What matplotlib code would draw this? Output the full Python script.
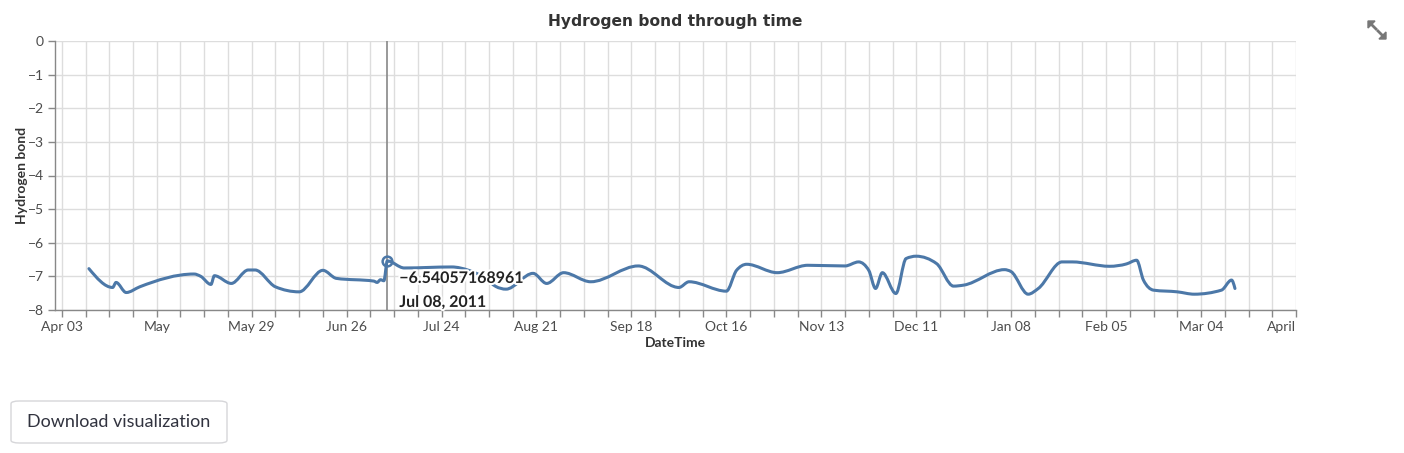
import numpy as np
import matplotlib
matplotlib.use("Agg")
import matplotlib.pyplot as plt
import matplotlib.dates as mdates
import matplotlib.patheffects as pe
from matplotlib.path import Path
from matplotlib.patches import PathPatch, FancyBboxPatch, Polygon

# data
dates = [
    "2011-04-11", "2011-04-18", "2011-04-19", "2011-04-22", "2011-04-26",
    "2011-05-12", "2011-05-14", "2011-05-17", "2011-05-18", "2011-05-23",
    "2011-05-28", "2011-05-30", "2011-06-05", "2011-06-12", "2011-06-19",
    "2011-06-23", "2011-07-04", "2011-07-05", "2011-07-06", "2011-07-07",
    "2011-07-08", "2011-07-13", "2011-07-27", "2011-08-01", "2011-08-06",
    "2011-08-09", "2011-08-12", "2011-08-20", "2011-08-24", "2011-08-29",
    "2011-09-06", "2011-09-20", "2011-10-02", "2011-10-05", "2011-10-16",
    "2011-10-19", "2011-10-22", "2011-10-31", "2011-11-09", "2011-11-20",
    "2011-11-24", "2011-11-27", "2011-11-29", "2011-12-01", "2011-12-05",
    "2011-12-08", "2011-12-11", "2011-12-17", "2011-12-22", "2011-12-25",
    "2012-01-06", "2012-01-08", "2012-01-13", "2012-01-16", "2012-01-23",
    "2012-01-26", "2012-02-06", "2012-02-11", "2012-02-14", "2012-02-16",
    "2012-02-19", "2012-02-26", "2012-03-02", "2012-03-10", "2012-03-13",
    "2012-03-14",
]
hbond = [
    -6.77, -7.33, -7.18, -7.48, -7.31,
    -6.93, -7.00, -7.24, -6.98, -7.21,
    -6.81, -6.81, -7.31, -7.46, -6.82,
    -7.06, -7.14, -7.18, -7.10, -7.13,
    -6.54057168961, -6.75, -6.72, -6.82, -7.06,
    -7.30, -7.38, -6.91, -7.21, -6.89,
    -7.16, -6.69, -7.33, -7.16, -7.44,
    -6.82, -6.64, -6.89, -6.67, -6.69,
    -6.57, -6.82, -7.36, -6.89, -7.51,
    -6.47, -6.40, -6.62, -7.29, -7.26,
    -6.80, -6.86, -7.53, -7.36, -6.57,
    -6.57, -6.70, -6.63, -6.52, -7.11,
    -7.41, -7.46, -7.53, -7.41, -7.11,
    -7.36,
]
hover_date = "2011-07-08"
hover_value = -6.54057168961
hover_text = "\u22126.54057168961"
hover_date_text = "Jul 08, 2011"

y_ticks = [0, -1, -2, -3, -4, -5, -6, -7, -8]
x_tick_dates = ["2011-04-03", "2011-05-01", "2011-05-29", "2011-06-26", "2011-07-24",
                "2011-08-21", "2011-09-18", "2011-10-16", "2011-11-13", "2011-12-11",
                "2012-01-08", "2012-02-05", "2012-03-04", "2012-04-01"]
x_tick_labels = ["Apr 03", "May", "May 29", "Jun 26", "Jul 24", "Aug 21", "Sep 18",
                 "Oct 16", "Nov 13", "Dec 11", "Jan 08", "Feb 05", "Mar 04", "April"]


def to_num(d):
    return mdates.date2num(np.datetime64(d))


def monotone_path(x, y):
    # same shape as a "monotone" line (cubic bezier per segment)
    x = np.asarray(x, float)
    y = np.asarray(y, float)
    n = len(x)
    h = np.diff(x)
    s = np.diff(y) / h
    t = np.zeros(n)
    for i in range(1, n - 1):
        p = (s[i - 1] * h[i] + s[i] * h[i - 1]) / (h[i - 1] + h[i])
        t[i] = (np.sign(s[i - 1]) + np.sign(s[i])) * min(abs(s[i - 1]), abs(s[i]), 0.5 * abs(p))
    t[0] = (3 * s[0] - t[1]) / 2
    t[-1] = (3 * s[-1] - t[-2]) / 2
    verts = [(x[0], y[0])]
    codes = [Path.MOVETO]
    for i in range(n - 1):
        dx = h[i] / 3
        verts += [(x[i] + dx, y[i] + dx * t[i]), (x[i + 1] - dx, y[i + 1] - dx * t[i + 1]), (x[i + 1], y[i + 1])]
        codes += [Path.CURVE4] * 3
    return Path(verts, codes)


W, H = 1404, 453
fig = plt.figure(figsize=(W / 100, H / 100), dpi=100)
ax = fig.add_axes([55 / W, 1 - 310 / H, (1296 - 55) / W, (310 - 41) / H])

grid_c = "#dddddd"
axis_c = "#888888"
label_c = "#4c4c4c"
tick_font = "Lato"

xs = [to_num(d) for d in dates]
ax.add_patch(PathPatch(monotone_path(xs, hbond), fill=False, edgecolor="#4c78a8", lw=2.2,
                       capstyle="round", joinstyle="round", zorder=3))

ax.set_xlim(to_num("2011-04-01"), to_num("2012-04-01"))
ax.set_ylim(-8, 0)

# weekly grid, 4-weekly labels
week_ticks = np.arange(to_num("2011-04-03"), to_num("2012-04-01") + 1, 7)
ax.set_xticks(week_ticks, minor=True)
ax.set_xticks([to_num(d) for d in x_tick_dates])
ax.set_xticklabels(x_tick_labels)
ax.set_yticks(y_ticks)
ax.set_yticklabels([str(v).replace("-", "\u2212") for v in y_ticks])

ax.grid(True, which="both", color=grid_c, lw=1, zorder=0)
ax.set_axisbelow(True)
for side in ["top", "right"]:
    ax.spines[side].set_visible(False)
for side in ["left", "bottom"]:
    ax.spines[side].set_color(axis_c)
    ax.spines[side].set_linewidth(1)
ax.tick_params(which="both", length=5, width=1, color=axis_c, labelcolor=label_c,
               labelsize=10, pad=3)
for lab in ax.get_xticklabels() + ax.get_yticklabels():
    lab.set_fontfamily(tick_font)
ax.get_xticklabels()[-1].set_horizontalalignment("right")

ax.set_xlabel("DateTime", fontsize=10, fontweight="bold", fontfamily=tick_font, color="#333333", labelpad=3)
ax.set_ylabel("Hydrogen bond", fontsize=10, fontweight="bold", fontfamily=tick_font, color="#333333", labelpad=0)
ax.set_title("Hydrogen bond through time", fontsize=11.2, fontweight="bold", color="#333333", pad=11)

# hover rule + point + tooltip labels
hx = to_num(hover_date)
ax.axvline(hx, color="#888888", lw=1.2, zorder=2)
ax.plot([hx], [hover_value], "o", ms=7, mfc="none", mec="#4c78a8", mew=1.8, zorder=4)
halo = [pe.withStroke(linewidth=3, foreground="white")]
ax.annotate(hover_text, (hx, hover_value), xytext=(12, -18), textcoords="offset pixels",
            fontsize=11.5, fontweight="bold", fontfamily="Lato", color="#222222", va="center", ha="left",
            path_effects=halo, zorder=5)
ax.annotate(hover_date_text, (hx, hover_value), xytext=(12, -42), textcoords="offset pixels",
            fontsize=11.5, fontweight="bold", fontfamily="Lato", color="#222222", va="center", ha="left",
            path_effects=halo, zorder=5)

# download button
btn = FancyBboxPatch((11 / W, 1 - 443 / H), 216 / W, 42 / H, boxstyle="round,pad=0,rounding_size=0.006",
                     transform=fig.transFigure, facecolor="white", edgecolor="#d6d6d9", lw=1)
fig.patches.append(btn)
fig.text(119 / W, 1 - 422 / H, "Download visualization", fontsize=13, fontfamily="Lato",
         color="#31333f", ha="center", va="center")


# expand icon (two outward arrows)
def px(x, y):
    return (x / W, 1 - y / H)


icon_c = "#777777"
fig.patches.append(Polygon([px(1368, 21), px(1375, 21), px(1368, 28)], closed=True,
                           transform=fig.transFigure, color=icon_c))
fig.patches.append(Polygon([px(1386, 39), px(1379, 39), px(1386, 32)], closed=True,
                           transform=fig.transFigure, color=icon_c))
fig.add_artist(plt.Line2D([1370 / W, 1376 / W], [1 - 23 / H, 1 - 29 / H], color=icon_c, lw=2))
fig.add_artist(plt.Line2D([1378 / W, 1384 / W], [1 - 31 / H, 1 - 37 / H], color=icon_c, lw=2))

fig.savefig("out.png", dpi=100)
